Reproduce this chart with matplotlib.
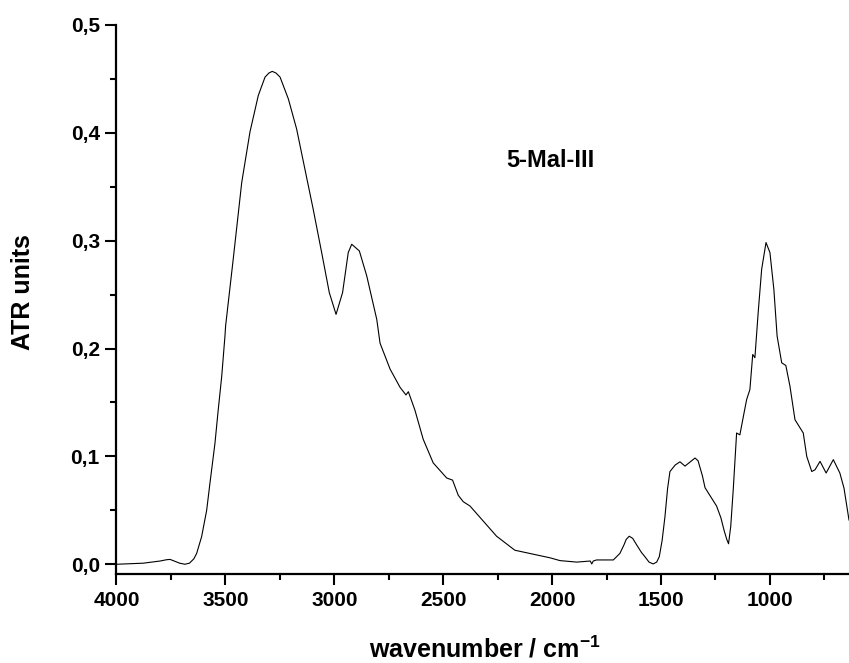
import matplotlib
matplotlib.use("Agg")
import matplotlib.pyplot as plt
from matplotlib.ticker import MultipleLocator, FuncFormatter

plt.rcParams['font.family'] = ['Liberation Sans', 'DejaVu Sans']
plt.rcParams['font.weight'] = 'bold'
plt.rcParams['mathtext.fontset'] = 'custom'
plt.rcParams['mathtext.rm'] = 'Liberation Sans'
plt.rcParams['mathtext.bf'] = 'Liberation Sans:bold'

# spectrum (wavenumber, ATR units)
wavenumber = [4000, 3877, 3800, 3770, 3754, 3735, 3710, 3686, 3665, 3645,
              3632, 3609, 3586, 3571, 3548, 3533, 3517, 3502, 3499, 3464,
              3425, 3387, 3349, 3318, 3300, 3285, 3268, 3249, 3211, 3173,
              3135, 3097, 3058, 3023, 2992, 2962, 2936, 2920, 2885, 2851,
              2805, 2790, 2744, 2698, 2671, 2660, 2630, 2592, 2546, 2484,
              2457, 2431, 2408, 2377, 2316, 2255, 2171, 2010, 1964, 1887,
              1825, 1818, 1811, 1796, 1719, 1689, 1670, 1660, 1646, 1630,
              1612, 1590, 1574, 1555, 1536, 1520, 1508, 1495, 1482, 1470,
              1459, 1435, 1413, 1390, 1344, 1330, 1310, 1298, 1270, 1245,
              1225, 1210, 1198, 1190, 1180, 1168, 1153, 1138, 1122, 1107,
              1092, 1079, 1069, 1054, 1038, 1018, 1000, 982, 967, 946,
              927, 908, 885, 847, 831, 808, 793, 770, 742, 709,
              679, 660, 637]
atr = [0.000, 0.001, 0.003, 0.0042, 0.0045, 0.003, 0.001, 0.000, 0.001, 0.005,
       0.010, 0.0257, 0.050, 0.075, 0.112, 0.143, 0.174, 0.2115, 0.221, 0.283,
       0.354, 0.401, 0.4346, 0.4517, 0.4555, 0.457, 0.4555, 0.4517, 0.4315, 0.4036,
       0.3664, 0.3293, 0.289, 0.2519, 0.2317, 0.2519, 0.289, 0.2967, 0.2905, 0.2673,
       0.227, 0.205, 0.181, 0.164, 0.157, 0.160, 0.143, 0.116, 0.094, 0.080,
       0.078, 0.064, 0.058, 0.054, 0.040, 0.026, 0.013, 0.006, 0.0034, 0.002,
       0.003, 0.0003, 0.003, 0.004, 0.004, 0.010, 0.018, 0.023, 0.026, 0.024,
       0.018, 0.011, 0.007, 0.002, 0.0003, 0.002, 0.007, 0.022, 0.044, 0.070,
       0.086, 0.092, 0.095, 0.091, 0.0985, 0.096, 0.082, 0.071, 0.062, 0.054,
       0.043, 0.031, 0.023, 0.019, 0.035, 0.0706, 0.1217, 0.120, 0.137, 0.1527,
       0.162, 0.1945, 0.1915, 0.2333, 0.2735, 0.2983, 0.289, 0.255, 0.2115, 0.1868,
       0.1843, 0.165, 0.134, 0.1217, 0.100, 0.086, 0.0876, 0.0954, 0.0846, 0.097,
       0.0846, 0.0706, 0.041]

sample = "5-Mal-III"

fig = plt.figure(figsize=(8.49, 6.63), dpi=100)
ax = fig.add_axes([0.1372, 0.1338, 0.8628, 0.8285])
ax.plot(wavenumber, atr, color='black', linewidth=0.8)

ax.set_xlim(4000, 637)
ax.set_ylim(-0.0093, 0.5)
ax.spines['top'].set_visible(False)
ax.spines['right'].set_visible(False)
for s in ['left', 'bottom']:
    ax.spines[s].set_linewidth(1.6)

ax.xaxis.set_major_locator(MultipleLocator(500))
ax.xaxis.set_minor_locator(MultipleLocator(250))
ax.yaxis.set_major_locator(MultipleLocator(0.1))
ax.yaxis.set_minor_locator(MultipleLocator(0.05))
ax.yaxis.set_major_formatter(FuncFormatter(lambda v, p: f"{v:.1f}".replace('.', ',')))
ax.tick_params(which='major', direction='out', length=8, width=1.5, labelsize=15, pad=4)
ax.tick_params(which='minor', direction='out', length=4.5, width=1.5)
for lab in ax.get_xticklabels() + ax.get_yticklabels():
    lab.set_fontweight('bold')

fig.text(23 / 849, 1 - 292 / 663, "ATR units", rotation=90, ha='center', va='center',
         fontsize=18, fontweight='bold')
fig.text(485 / 849, 1 - 658 / 663, "wavenumber / cm$^{\\mathbf{-1}}$", ha='center',
         va='baseline', fontsize=18, fontweight='bold')
ax.text(2010, 0.374, sample, ha='center', va='center', fontsize=17, fontweight='bold')

fig.savefig("out.png", dpi=100)
